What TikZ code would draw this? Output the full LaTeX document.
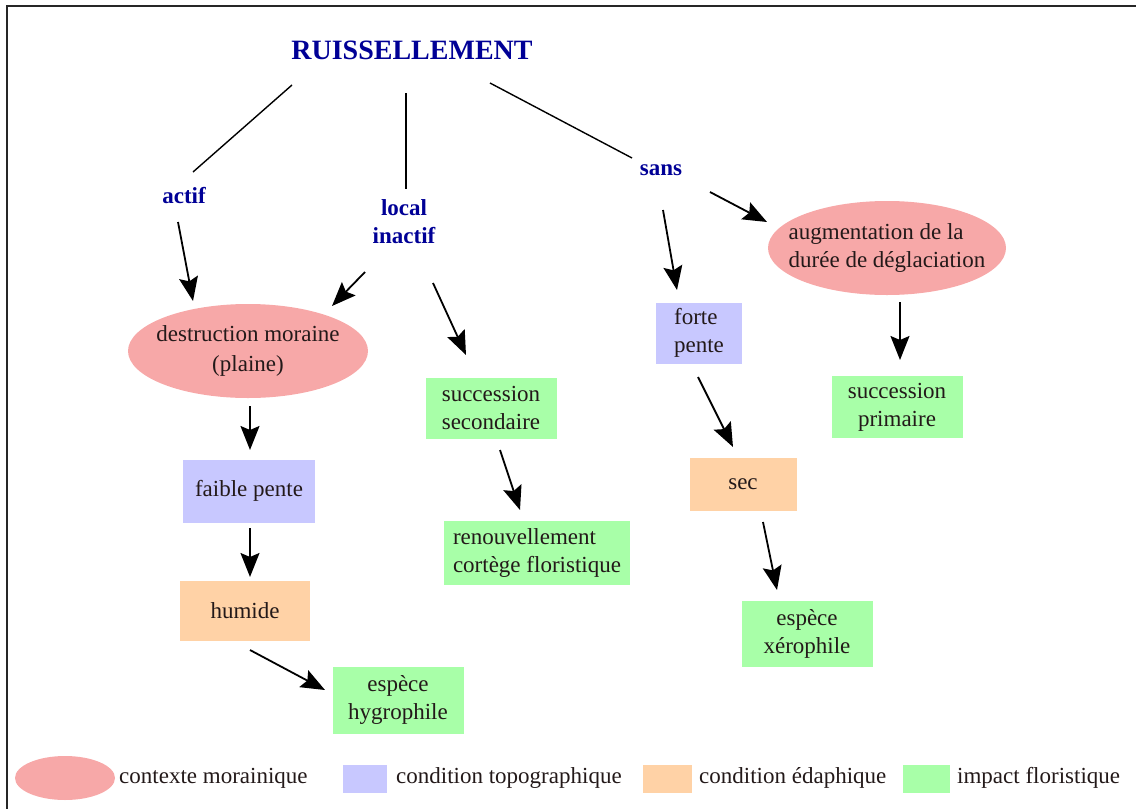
\documentclass[tikz,border=0pt]{standalone}
\usepackage{fontspec}
\setmainfont{Liberation Serif}
\usetikzlibrary{arrows.meta,calc,shapes.geometric}
\definecolor{pinkc}{RGB}{247,168,168}
\definecolor{bluec}{RGB}{200,200,255}
\definecolor{orangec}{RGB}{255,210,166}
\definecolor{greenc}{RGB}{168,255,168}
\definecolor{navy}{RGB}{0,0,150}
\definecolor{txt}{RGB}{35,25,25}
\begin{document}
\begin{tikzpicture}[x=1pt,y=-1pt,
  every node/.style={font=\fontsize{23}{28}\selectfont, text=txt, inner sep=0pt},
  ell/.style={ellipse, fill=pinkc, minimum width=240pt, minimum height=94pt},
  tbox/.style={rectangle, fill=#1},
  lbl/.style={text=navy, font=\fontsize{23}{28}\selectfont\bfseries, align=center},
  arr/.style={-{Stealth[length=24pt,width=19pt,inset=4pt]}, line width=1.8pt, black},
  ln/.style={line width=1.4pt, black},
  leg/.style={font=\fontsize{23}{26}\selectfont, anchor=west}
]
\useasboundingbox (0,0) rectangle (1136,809);
% frame
\draw[line width=2.5pt, black!85] (7,809) -- (7,6) -- (1136,6);

% title and labels
\node[text=navy, font=\fontsize{28}{32}\selectfont\bfseries] (ruis) at (412,50) {RUISSELLEMENT};
\node[lbl] (actif) at (184,196) {actif};
\node[lbl] (local) at (404,222) {local\\inactif};
\node[lbl] (sans) at (661,170) {sans};

% ellipses
\node[ell, align=center, inner xsep=-7pt, font=\fontsize{23}{30}\selectfont] (destr) at (248,351) {destruction moraine\\(plaine)};
\node[ell, align=left, inner xsep=-15pt, minimum width=238pt] (aug) at (887,248) {augmentation de la\\durée de déglaciation};

% boxes
\node[tbox=bluec, minimum width=132pt, minimum height=63pt] (faible) at (249,491) {faible pente};
\node[tbox=orangec, minimum width=130pt, minimum height=60pt] (humide) at (245,611) {humide};
\node[tbox=greenc, minimum width=131pt, minimum height=67pt, align=center] (hygro) at (398,700) {espèce\\hygrophile};
\node[tbox=greenc, minimum width=131pt, minimum height=61pt, align=center] (second) at (491,408) {succession\\secondaire};
\node[tbox=greenc, minimum width=186pt, minimum height=64pt, align=left] (renouv) at (537,553) {renouvellement\\cortège floristique};
\node[tbox=bluec, minimum width=86pt, minimum height=61pt, align=left] (forte) at (699,333) {forte\\pente};
\node[tbox=orangec, minimum width=107pt, minimum height=53pt] (sec) at (743,484) {sec};
\node[tbox=greenc, minimum width=131pt, minimum height=62pt, align=center] (prim) at (897,407) {succession\\primaire};
\node[tbox=greenc, minimum width=131pt, minimum height=66pt, align=center] (xero) at (807,634) {espèce\\xérophile};

% lines from title
\draw[ln] ($(ruis)+(-120,35)$) -- ($(actif)+(9,-24)$);
\draw[ln] ($(ruis)+(-6,43)$) -- ($(local)+(2,-33)$);
\draw[ln] ($(ruis)+(78,33)$) -- ($(sans)+(-29,-12)$);

% arrows
\draw[arr] ($(actif)+(-6,26)$) -- ($(destr)+(-55,-50)$);
\draw[arr] ($(local)+(-39,50)$) -- ($(destr)+(84,-45)$);
\draw[arr] ($(local)+(29,61)$) -- ($(second)+(-25,-53)$);
\draw[arr] ($(destr)+(2,55)$) -- ($(faible)+(1,-41)$);
\draw[arr] ($(faible)+(1,37)$) -- ($(humide)+(5,-34)$);
\draw[arr] ($(humide)+(5,39)$) -- ($(hygro)+(-73,-10)$);
\draw[arr] ($(second)+(9,42)$) -- ($(renouv)+(-17,-43)$);
\draw[arr] ($(sans)+(2,40)$) -- ($(forte)+(-22,-43)$);
\draw[arr] ($(sans)+(49,22)$) -- ($(aug)+(-120,-26)$);
\draw[arr] ($(aug)+(13,54)$) -- ($(prim)+(3,-47)$);
\draw[arr] ($(forte)+(-1,44)$) -- ($(sec)+(-10,-37)$);
\draw[arr] ($(sec)+(20,38)$) -- ($(xero)+(-30,-44)$);

% legend
\node[ellipse, fill=pinkc, minimum width=100pt, minimum height=44pt] (lg1) at (65,778) {};
\node[leg] (lt1) at (119,778) {contexte morainique};
\node[fill=bluec, minimum width=44pt, minimum height=28pt] (lg2) at (365,779) {};
\node[leg] (lt2) at (396,778) {condition topographique};
\node[fill=orangec, minimum width=49pt, minimum height=28pt] (lg3) at (667,779) {};
\node[leg] (lt3) at (699,778) {condition édaphique};
\node[fill=greenc, minimum width=47pt, minimum height=28pt] (lg4) at (926,779) {};
\node[leg] (lt4) at (957,778) {impact floristique};
\end{tikzpicture}
\end{document}
